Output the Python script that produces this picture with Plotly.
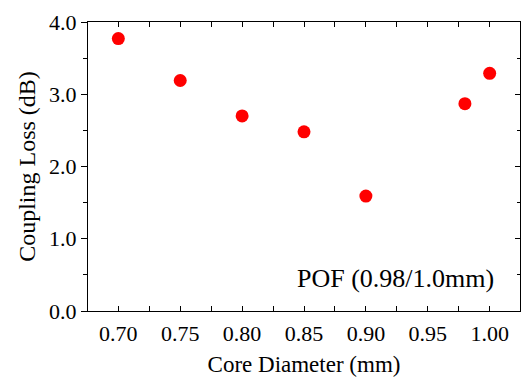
import plotly.graph_objects as go

core_diameter = [0.70, 0.75, 0.80, 0.85, 0.90, 0.98, 1.00]
coupling_loss = [3.77, 3.19, 2.70, 2.48, 1.59, 2.87, 3.29]
x_tick_start, x_tick_step, x_tick_format = 0.70, 0.05, ".2f"
y_tick_start, y_tick_step, y_tick_format = 0.0, 1.0, ".1f"

XR = [0.6755, 1.0245]
YR = [0, 4.0]
FONT = "Liberation Serif, Times New Roman, serif"

fig = go.Figure()
fig.add_trace(go.Scatter(
    x=core_diameter, y=coupling_loss, mode="markers",
    marker=dict(color="#ff0000", size=13, line=dict(width=0)),
    showlegend=False, cliponaxis=False))
fig.add_trace(go.Scatter(x=[XR[0]], y=[YR[0]], yaxis="y2", mode="markers",
                         marker=dict(opacity=0), showlegend=False, hoverinfo="skip"))

common = dict(showline=True, linecolor="black", linewidth=1, showgrid=False,
              zeroline=False, tickwidth=1, tickcolor="black")

fig.update_layout(
    width=522, height=386,
    margin=dict(l=88, r=2, t=22, b=75),
    plot_bgcolor="white", paper_bgcolor="white",
    font=dict(family=FONT, color="black"),
    xaxis=dict(range=XR, tickmode="linear", tick0=x_tick_start, dtick=x_tick_step,
               tickformat=x_tick_format, ticks="inside", ticklen=5, mirror="allticks",
               minor=dict(ticks="inside", ticklen=3, tickcolor="black", dtick=x_tick_step / 2),
               tickfont=dict(size=22), ticklabelstandoff=3,
               title=dict(text="Core Diameter (mm)", font=dict(size=23), standoff=10),
               **common),
    yaxis=dict(range=YR, tickmode="linear", tick0=y_tick_start, dtick=y_tick_step,
               tickformat=y_tick_format, ticks="outside", ticklen=6,
               minor=dict(ticks="outside", ticklen=4, tickcolor="black", dtick=y_tick_step / 2),
               tickfont=dict(size=22), ticklabelstandoff=0,
               title=dict(text="Coupling Loss (dB)", font=dict(size=24), standoff=6),
               **common),
    yaxis2=dict(range=YR, overlaying="y", side="right", anchor="x", tickmode="linear",
                tick0=y_tick_start, dtick=y_tick_step, showticklabels=False,
                ticks="inside", ticklen=5,
                minor=dict(ticks="inside", ticklen=3, tickcolor="black", dtick=y_tick_step / 2),
                **common),
    annotations=[dict(text="POF (0.98/1.0mm)", x=1.005, y=0.45, xref="x", yref="y",
                      xanchor="right", yanchor="middle", showarrow=False,
                      font=dict(size=26, family=FONT, color="black"))],
)

fig.write_html("out.html", config={"displayModeBar": False},
               post_script="document.body.style.margin='0';")
